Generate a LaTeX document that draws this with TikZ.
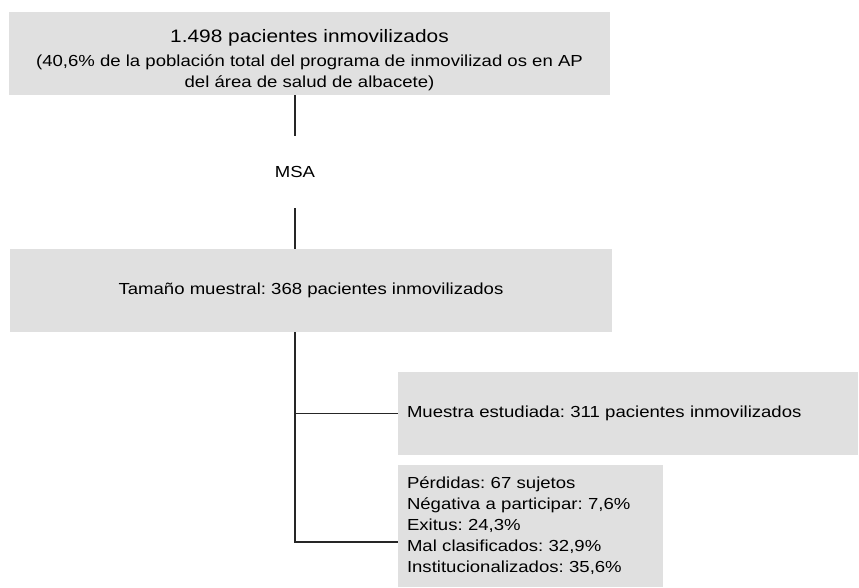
\documentclass[tikz,border=0pt]{standalone}
\usepackage{fontspec}
\setmainfont[FakeStretch=1.16]{Liberation Sans}
\begin{document}
\frenchspacing
\begin{tikzpicture}[
            x=1pt, y=-1pt,
            box/.style={fill=black!12, inner sep=0pt, minimum height=83pt},
            leftbox/.style={box, align=left, inner xsep=9pt},
            link/.style={line width=1.2pt, black!85}
        ]
        \useasboundingbox (0,0) rectangle (859,588);
        \fontsize{16}{21}\selectfont
        \node[box, minimum width=601pt, align=center] (total) at (309.5,53.5)
            {{\fontsize{18}{22}\selectfont\rule{0pt}{27pt}1.498 pacientes inmovilizados}\\[3pt]
             (40,6\% de la población total del programa de inmovilizad os en AP\\
             del área de salud de albacete)};
        \node[minimum height=72pt, inner sep=0pt] (msa) at (295,172) {MSA};
        \node[box, minimum width=602pt] (sample) at (311,290.5)
            {Tamaño muestral: 368 pacientes inmovilizados};
        \node[leftbox, text width=442pt] (studied) at (628,413.5)
            {Muestra estudiada: 311 pacientes inmovilizados};
        \node[leftbox, text width=247pt, minimum height=122pt] (losses) at (530.5,526)
            {Pérdidas: 67 sujetos\\
             Négativa a participar: 7,6\%\\
             Exitus: 24,3\%\\
             Mal clasificados: 32,9\%\\
             Institucionalizados: 35,6\%};
        \coordinate (bend) at (295,542);
        \draw[link] (total.south -| msa.north) -- (msa.north);
        \draw[link] (msa.south) -- (sample.north -| msa.south);
        \draw[link] (sample.south -| bend) |- (studied.west);
        \draw[link] (sample.south -| bend) -- (bend) -- (bend -| losses.west);
    \end{tikzpicture}
\end{document}
